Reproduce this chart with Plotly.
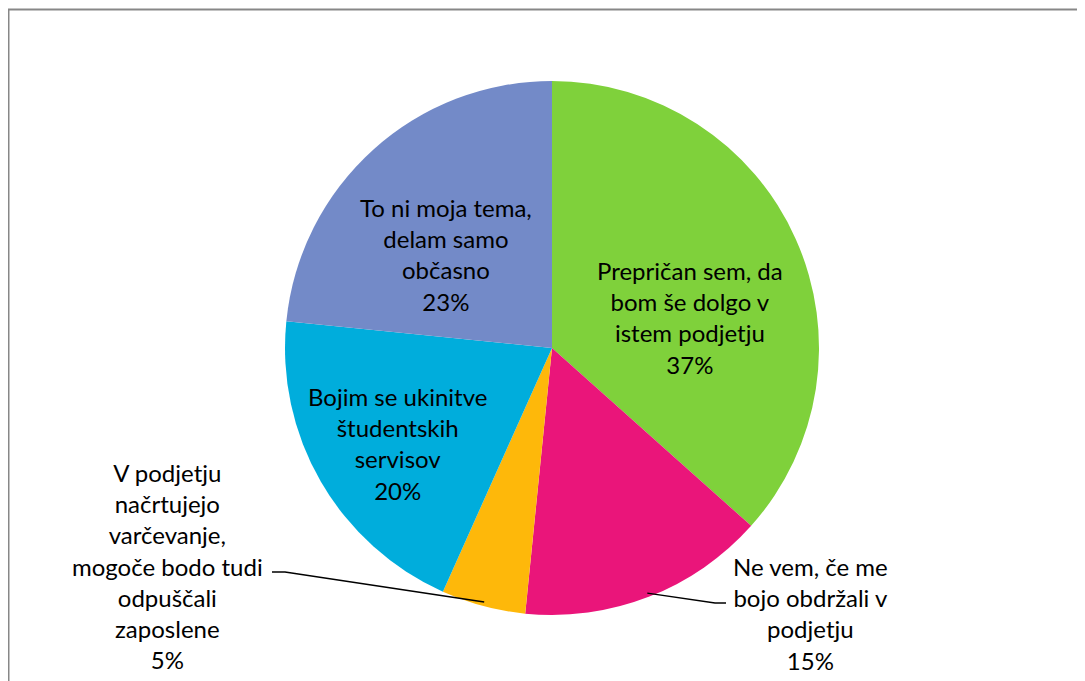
import math
import plotly.graph_objects as go

labels = [
    "Prepričan sem, da bom še dolgo v istem podjetju",
    "Ne vem, če me bojo obdržali v podjetju",
    "V podjetju načrtujejo varčevanje, mogoče bodo tudi odpuščali zaposlene",
    "Bojim se ukinitve študentskih servisov",
    "To ni moja tema, delam samo občasno",
]
label_lines = [
    "Prepričan sem, da<br>bom še dolgo v<br>istem podjetju",
    "Ne vem, če me<br>bojo obdržali v<br>podjetju",
    "V podjetju<br>načrtujejo<br>varčevanje,<br>mogoče bodo tudi<br>odpuščali<br>zaposlene",
    "Bojim se ukinitve<br>študentskih<br>servisov",
    "To ni moja tema,<br>delam samo<br>občasno",
]
values = [36.6, 15.0, 5.1, 19.9, 23.4]
colors = ["#7FD13B", "#EA157A", "#FEB80A", "#00ADDC", "#738AC8"]

OFF = 8  # page body margin
W, H = 1085 - OFF, 681 - OFF
CX, CY, R = 552, 348, 267  # pie centre / radius in page pixels

# label block centres (page pixels)
label_pos = [(690, 318), (810, 613), (167, 566), (397, 443), (446, 254)]

def px(x):
    return (x - OFF) / W

def py(y):
    return 1 - (y - OFF) / H

fig = go.Figure(go.Pie(
    labels=labels,
    values=values,
    marker=dict(colors=colors, line=dict(width=0)),
    sort=False,
    direction="clockwise",
    rotation=0,
    textinfo="none",
    hoverinfo="label+percent",
    showlegend=False,
    domain=dict(x=[px(CX - R), px(CX + R)], y=[py(CY + R), py(CY - R)]),
))

total = sum(values)
pcts = [round(v / total * 100) for v in values]

annotations = []
for txt, pct, (lx, ly) in zip(label_lines, pcts, label_pos):
    annotations.append(dict(
        x=px(lx), y=py(ly), xref="paper", yref="paper",
        text=f"{txt}<br>{pct}%", showarrow=False,
        xanchor="center", yanchor="middle", align="center",
        font=dict(family="Lato, Carlito, sans-serif", size=24, color="#000000"),
    ))

cum = [0]
for v in values:
    cum.append(cum[-1] + v)

def edge_point(i, f=0.985):
    ang = (cum[i] + values[i] / 2) / total * 2 * math.pi
    return CX + math.sin(ang) * R * f, CY - math.cos(ang) * R * f

shapes = []
x0, y0 = edge_point(1)
shapes.append(dict(type="path", xref="paper", yref="paper",
                   path=f"M {px(x0)},{py(y0)} L {px(715)},{py(603)} L {px(726)},{py(603)}",
                   line=dict(color="#000000", width=1.5)))
x0, y0 = edge_point(2)
shapes.append(dict(type="path", xref="paper", yref="paper",
                   path=f"M {px(x0)},{py(y0)} L {px(285)},{py(572)} L {px(272)},{py(572)}",
                   line=dict(color="#000000", width=1.5)))
shapes.append(dict(type="rect", xref="paper", yref="paper",
                   x0=px(8.5), y0=-0.05, x1=1.05, y1=py(9.5),
                   line=dict(color="#878787", width=2), fillcolor="rgba(0,0,0,0)"))

fig.update_layout(
    width=W, height=H,
    margin=dict(l=0, r=0, t=0, b=0),
    paper_bgcolor="#FFFFFF",
    plot_bgcolor="#FFFFFF",
    annotations=annotations,
    shapes=shapes,
)

fig.write_html("out.html")
